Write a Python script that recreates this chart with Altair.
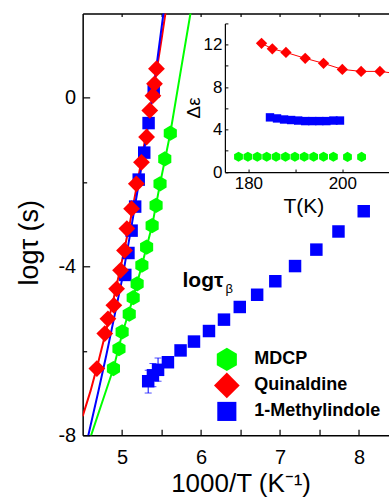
import altair as alt
import pandas as pd

FONT = "Liberation Sans"

# ---------------- data ----------------
series_names = ["MDCP", "Quinaldine", "1-Methylindole"]
series_colors = ["#00ff00", "#ff0000", "#0000ff"]

# main panel: log tau vs 1000/T
mdcp_x = [4.89, 4.96, 5.00, 5.09, 5.14, 5.19, 5.25, 5.31, 5.38, 5.43, 5.48, 5.54, 5.61]
mdcp_y = [-6.42, -5.95, -5.55, -5.13, -4.74, -4.41, -3.97, -3.54, -3.03, -2.55, -2.04, -1.45, -0.84]

quin_x = [4.68, 4.78, 4.82, 4.895, 4.93, 4.98, 5.03, 5.06, 5.12, 5.18, 5.245, 5.31, 5.35, 5.39, 5.41, 5.435]
quin_y = [-6.42, -5.59, -5.24, -4.92, -4.53, -4.09, -3.62, -3.10, -2.63, -2.04, -1.53, -0.93, -0.30, 0.05, 0.33, 0.69]

mind_alpha_x = [5.04, 5.08, 5.12, 5.165, 5.21, 5.28, 5.335, 5.40]
mind_alpha_y = [-4.20, -3.68, -3.15, -2.58, -1.94, -1.30, -0.60, 0.15]

mind_beta_x = [5.33, 5.39, 5.455, 5.58, 5.74, 5.91, 6.10, 6.29, 6.49, 6.71, 6.94, 7.19, 7.46, 7.74, 8.06]
mind_beta_y = [-6.72, -6.58, -6.45, -6.27, -5.99, -5.78, -5.53, -5.26, -4.96, -4.67, -4.35, -3.99, -3.60, -3.17, -2.69]

err_x = [5.33, 5.39, 5.455]
err_lo = [-7.00, -6.85, -6.72]
err_hi = [-6.46, -6.30, -6.17]

# fit curves
mdcp_fit_x = [4.59, 4.75, 4.89, 5.00, 5.14, 5.25, 5.38, 5.48, 5.61, 5.73, 5.87]
mdcp_fit_y = [-8.10, -7.20, -6.42, -5.60, -4.74, -3.97, -3.03, -2.04, -0.84, 0.50, 2.05]
quin_fit_x = [4.50, 4.60, 4.70, 4.80, 4.90, 5.00, 5.10, 5.20, 5.30, 5.40, 5.50, 5.56]
quin_fit_y = [-7.55, -6.95, -6.25, -5.50, -4.70, -3.85, -2.95, -1.95, -0.90, 0.20, 1.40, 2.15]
mind_fit_x = [4.56, 4.70, 4.80, 4.90, 5.00, 5.10, 5.20, 5.30, 5.40, 5.53]
mind_fit_y = [-8.10, -6.95, -6.10, -5.20, -4.30, -3.25, -2.15, -1.00, 0.25, 2.10]

# inset: delta epsilon vs T
in_mdcp_T = [177.9, 179.9, 181.9, 183.9, 185.9, 187.9, 189.9, 191.9, 193.9, 196.0, 198.1, 201.1, 204.1]
in_mdcp_d = [1.44, 1.44, 1.44, 1.44, 1.44, 1.44, 1.44, 1.44, 1.44, 1.44, 1.44, 1.42, 1.42]
in_quin_T = [182.8, 185.1, 188.0, 192.1, 196.0, 200.0, 204.0, 208.0]
in_quin_d = [12.12, 11.61, 11.27, 10.71, 10.24, 9.67, 9.48, 9.48]
in_quin_line_T = [182.8, 185.1, 188.0, 192.1, 196.0, 200.0, 204.0, 208.0, 212.0]
in_quin_line_d = [12.12, 11.61, 11.27, 10.71, 10.24, 9.67, 9.48, 9.48, 9.25]
in_mind_T = [184.6, 186.1, 187.6, 189.1, 190.6, 192.1, 193.6, 195.1, 196.6, 198.1, 199.5]
in_mind_d = [5.15, 5.05, 4.95, 4.90, 4.85, 4.80, 4.80, 4.80, 4.80, 4.85, 4.85]

# annotation
ann_main = ["logτ"]
ann_main_x = [5.765]
ann_main_y = [-4.49]
ann_sub = ["β"]
ann_sub_x = [6.31]
ann_sub_y = [-4.62]

# ---------------- tables ----------------
def pts(xs, ys, name):
    return pd.DataFrame({"x": xs, "y": ys, "series": name})

main_pts = pd.concat([
    pts(mind_alpha_x, mind_alpha_y, "1-Methylindole"),
    pts(mind_beta_x, mind_beta_y, "1-Methylindole"),
    pts(mdcp_x, mdcp_y, "MDCP"),
    pts(quin_x, quin_y, "Quinaldine"),
], ignore_index=True)

inset_pts = pd.concat([
    pts(in_mind_T, in_mind_d, "1-Methylindole"),
    pts(in_mdcp_T, in_mdcp_d, "MDCP"),
    pts(in_quin_T, in_quin_d, "Quinaldine"),
], ignore_index=True)

err_df = pd.DataFrame({"x": err_x, "lo": err_lo, "hi": err_hi})
cap_df = pd.DataFrame({"x": err_x + err_x, "y": err_lo + err_hi})

# ---------------- geometry ----------------
W, H = 306.5, 422
HEX = "M0,-0.95L0.82,-0.475L0.82,0.475L0,0.95L-0.82,0.475L-0.82,-0.475Z"
DIA = "M-1.05,0L0,-1.05L1.05,0L0,1.05Z"
SQ = "M-0.78,-0.78L0.78,-0.78L0.78,0.78L-0.78,0.78Z"

def XS():
    return alt.Scale(domain=[4.5, 8.38], nice=False, zero=False)

def YS():
    return alt.Scale(domain=[-8, 2], nice=False, zero=False)

def IXS():
    return alt.Scale(domain=[175, 210], range=[142.3, 306.8], nice=False, zero=False)

def IYS():
    return alt.Scale(domain=[0, 14], range=[158.7, 10.0], nice=False, zero=False)

legend = alt.Legend(title=None, orient="none", legendX=131.75, legendY=333.7,
                    symbolSize=600, symbolStrokeWidth=0, symbolOpacity=1,
                    labelFont=FONT, labelFontSize=18, labelFontWeight="bold",
                    labelColor="black", labelOffset=15, rowPadding=0, padding=0)
color = alt.Color("series:N", scale=alt.Scale(domain=series_names, range=series_colors), legend=legend)
shape = alt.Shape("series:N", scale=alt.Scale(domain=series_names, range=[HEX, DIA, SQ]), legend=legend)

half_ticks = [5, 5.5, 6, 6.5, 7, 7.5, 8]

# L1: MDCP fit with main labelled axes
l_green = alt.Chart(pd.DataFrame({"x": mdcp_fit_x, "y": mdcp_fit_y})).mark_line(
    color="#00ff00", strokeWidth=2, clip=True).encode(
    x=alt.X("x:Q", scale=XS(), axis=alt.Axis(
        orient="bottom", values=[5, 6, 7, 8], ticks=False, domain=True, domainWidth=1.5,
        labelFontSize=20, labelPadding=12, labelExpr="'' + datum.value",
        title="1000/T (K⁻¹)", titleFontSize=26, titleX=158, titleY=56,
        titleAlign="center", titleBaseline="alphabetic", grid=False)),
    y=alt.Y("y:Q", scale=YS(), axis=alt.Axis(
        orient="left", values=[-8, -4, 0], ticks=False, domain=True, domainWidth=1.5,
        labelFontSize=20, labelPadding=7, labelExpr="'' + datum.value",
        title="logτ (s)", titleFontSize=27, titleAngle=270, titleX=-45, titleY=229,
        titleAlign="center", titleBaseline="alphabetic", grid=False)),
    order=alt.Order("x:Q"))

# L2: Quinaldine fit with inward bottom ticks and inward left major ticks
l_red = alt.Chart(pd.DataFrame({"x": quin_fit_x, "y": quin_fit_y})).mark_line(
    color="#ff0000", strokeWidth=2, clip=True).encode(
    x=alt.X("x:Q", scale=XS(), axis=alt.Axis(
        orient="top", offset=-H, values=half_ticks, labels=False, domain=False,
        ticks=True, tickSize=6, tickWidth=1.2, title=None, grid=False)),
    y=alt.Y("y:Q", scale=YS(), axis=alt.Axis(
        orient="right", offset=-W, values=[-8, -4, 0], labels=False, domain=False,
        ticks=True, tickSize=7, tickWidth=1.2, title=None, grid=False)),
    order=alt.Order("x:Q"))

# L3: 1-Methylindole fit with top frame + inward ticks, left minor ticks
l_blue = alt.Chart(pd.DataFrame({"x": mind_fit_x, "y": mind_fit_y})).mark_line(
    color="#0000ff", strokeWidth=2, clip=True).encode(
    x=alt.X("x:Q", scale=XS(), axis=alt.Axis(
        orient="bottom", offset=-H, values=half_ticks, labels=False, domain=True,
        domainWidth=1.5, ticks=True, tickSize=3, tickWidth=1.2, title=None, grid=False)),
    y=alt.Y("y:Q", scale=YS(), axis=alt.Axis(
        orient="right", offset=-W, values=[-6, -2], labels=False, domain=False,
        ticks=True, tickSize=4, tickWidth=1.2, title=None, grid=False)),
    order=alt.Order("x:Q"))

l_err = alt.Chart(err_df).mark_rule(color="#0000ff", strokeWidth=1).encode(
    x=alt.X("x:Q", scale=XS(), axis=None),
    y=alt.Y("lo:Q", scale=YS(), axis=None),
    y2="hi:Q")

l_caps = alt.Chart(cap_df).mark_tick(color="#0000ff", orient="horizontal", size=7, thickness=1).encode(
    x=alt.X("x:Q", scale=XS(), axis=None),
    y=alt.Y("y:Q", scale=YS(), axis=None))

l_pts = alt.Chart(main_pts).mark_point(filled=True, opacity=1, size=256, strokeWidth=0).encode(
    x=alt.X("x:Q", scale=XS(), axis=None),
    y=alt.Y("y:Q", scale=YS(), axis=None),
    color=color, shape=shape)

l_txt = alt.Chart(pd.DataFrame({"x": ann_main_x, "y": ann_main_y, "t": ann_main})).mark_text(
    align="left", baseline="alphabetic", font=FONT, fontSize=21, fontWeight="bold", color="black").encode(
    x=alt.X("x:Q", scale=XS(), axis=None),
    y=alt.Y("y:Q", scale=YS(), axis=None),
    text="t:N")

l_sub = alt.Chart(pd.DataFrame({"x": ann_sub_x, "y": ann_sub_y, "t": ann_sub})).mark_text(
    align="left", baseline="alphabetic", font=FONT, fontSize=13, color="black").encode(
    x=alt.X("x:Q", scale=XS(), axis=None),
    y=alt.Y("y:Q", scale=YS(), axis=None),
    text="t:N")

# inset
i_line = alt.Chart(pd.DataFrame({"x": in_quin_line_T, "y": in_quin_line_d})).mark_line(
    color="#ff0000", strokeWidth=1, clip=True).encode(
    x=alt.X("x:Q", scale=IXS(), axis=alt.Axis(
        orient="bottom", offset=-263.3, values=[180, 200], ticks=False, domain=True,
        domainWidth=1.2, labelFontSize=17, labelPadding=3,
        title="T(K)", titleFontSize=21, titleX=220.8, titleY=40,
        titleAlign="center", titleBaseline="alphabetic", grid=False)),
    y=alt.Y("y:Q", scale=IYS(), axis=alt.Axis(
        orient="left", offset=-142.3, values=[0, 4, 8, 12], ticks=False, domain=True,
        domainWidth=1.2, labelFontSize=17, labelPadding=3,
        title="Δε", titleFontSize=19, titleAngle=270, titleX=-25, titleY=94,
        titleAlign="center", titleBaseline="alphabetic", grid=False)),
    order=alt.Order("x:Q"))

i_pts = alt.Chart(inset_pts).mark_point(filled=True, opacity=1, size=116, strokeWidth=0).encode(
    x=alt.X("x:Q", scale=IXS(), axis=alt.Axis(
        orient="top", offset=-158.7, values=[180, 190, 200, 210], labels=False, domain=False,
        ticks=True, tickSize=3, tickWidth=1, title=None, grid=False)),
    y=alt.Y("y:Q", scale=IYS(), axis=alt.Axis(
        orient="right", offset=-164.2, values=[0, 2, 4, 6, 8, 10, 12, 14], labels=False,
        domain=False, ticks=True, tickSize=3, tickWidth=1, title=None, grid=False)),
    color=color, shape=shape)

chart = alt.layer(
    l_green, l_red, l_blue, l_err, l_caps, l_pts, l_txt, l_sub, i_line, i_pts
).resolve_scale(
    x="independent", y="independent"
).resolve_axis(
    x="independent", y="independent"
).properties(
    width=W, height=H,
    padding={"left": 82.7, "top": 13.3, "right": 0, "bottom": 64.7},
    autosize=alt.AutoSizeParams(type="none"),
    background="white",
).configure_view(
    strokeWidth=0
).configure_axis(
    labelFont=FONT, titleFont=FONT, labelColor="black", titleColor="black",
    titleFontWeight="normal", domainColor="black", tickColor="black", grid=False
)

chart.save("out.html", embed_options={"renderer": "svg", "actions": False})
